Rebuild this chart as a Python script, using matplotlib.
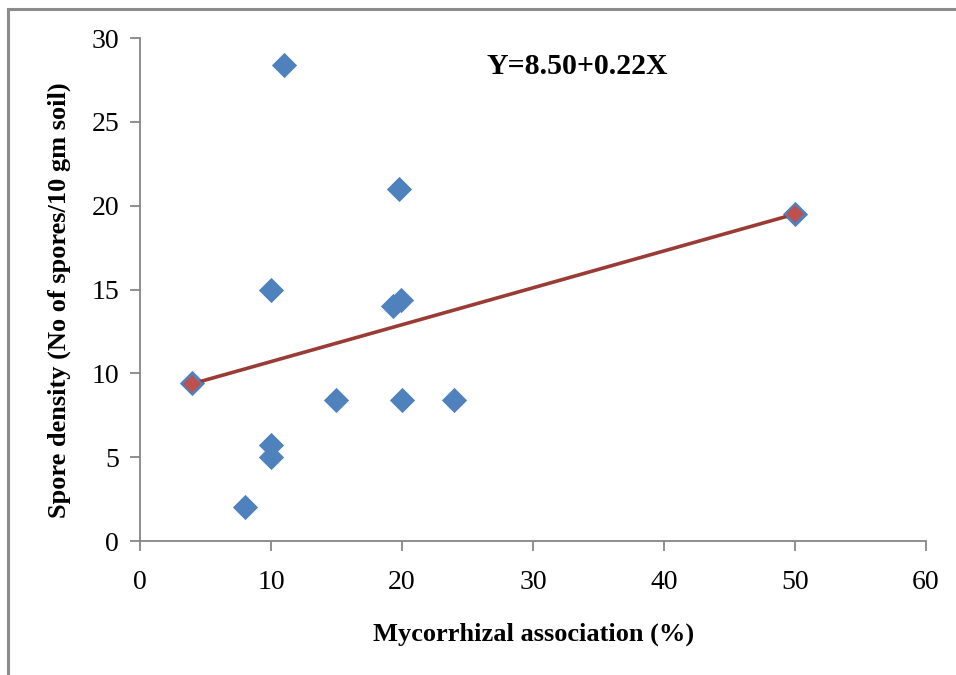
import matplotlib.pyplot as plt
from matplotlib.lines import Line2D
import numpy as np

myco = [4, 8, 10, 10, 10, 11, 15, 19.3, 19.9, 19.8, 20, 24, 50]
spores = [9.4, 2.0, 5.0, 5.7, 15.0, 28.4, 8.4, 14.0, 14.4, 21.0, 8.4, 8.4, 19.5]
intercept = 8.50
slope = 0.22
eq_text = 'Y=8.50+0.22X'

plt.rcParams['font.family'] = ['Liberation Serif', 'DejaVu Serif']

fig = plt.figure(figsize=(9.56, 6.75), dpi=100)
ax = fig.add_axes([0.1464, 0.1985, 0.8222, 0.7452])

ax.scatter(myco, spores, marker='D', s=165, color='#4F81BD', linewidths=0, zorder=3)

fit_x = np.array([min(myco), max(myco)])
fit_y = intercept + slope * fit_x
ax.plot(fit_x, fit_y, color='#9B3B36', lw=2.6, marker='D', ms=10,
        mfc='#C0504D', mec='#4F81BD', mew=1.2, zorder=4, solid_capstyle='round')

ax.set_xlim(0, 60)
ax.set_ylim(0, 30)
ax.set_xticks(range(0, 61, 10))
ax.set_yticks(range(0, 31, 5))

for side in ['top', 'right']:
    ax.spines[side].set_visible(False)
for side in ['left', 'bottom']:
    ax.spines[side].set_color('#868686')
    ax.spines[side].set_linewidth(1.3)
ax.tick_params(direction='out', length=7, width=1.3, color='#868686',
               labelsize=20, pad=8)
ax.tick_params(axis='x', pad=14)

ax.set_xlabel('Mycorrhizal association (%)', fontsize=19, fontweight='bold')
ax.set_ylabel('Spore density (No of spores/10 gm soil)', fontsize=19, fontweight='bold')
ax.xaxis.set_label_coords(0.501, -0.163)
ax.yaxis.set_label_coords(-0.088, 0.479)

ax.text(0.556, 0.944, eq_text, transform=ax.transAxes, fontsize=21.5,
        fontweight='bold', ha='center', va='center')

# outer frame (top and left edges only visible)
fig.add_artist(Line2D([7.5 / 956, 7.5 / 956], [0, 1 - 9 / 675], color='#8C8C8C', lw=2.2,
                      transform=fig.transFigure))
fig.add_artist(Line2D([7.5 / 956, 1], [1 - 9 / 675, 1 - 9 / 675], color='#8C8C8C', lw=2.2,
                      transform=fig.transFigure))

fig.savefig('out.png', dpi=100)
